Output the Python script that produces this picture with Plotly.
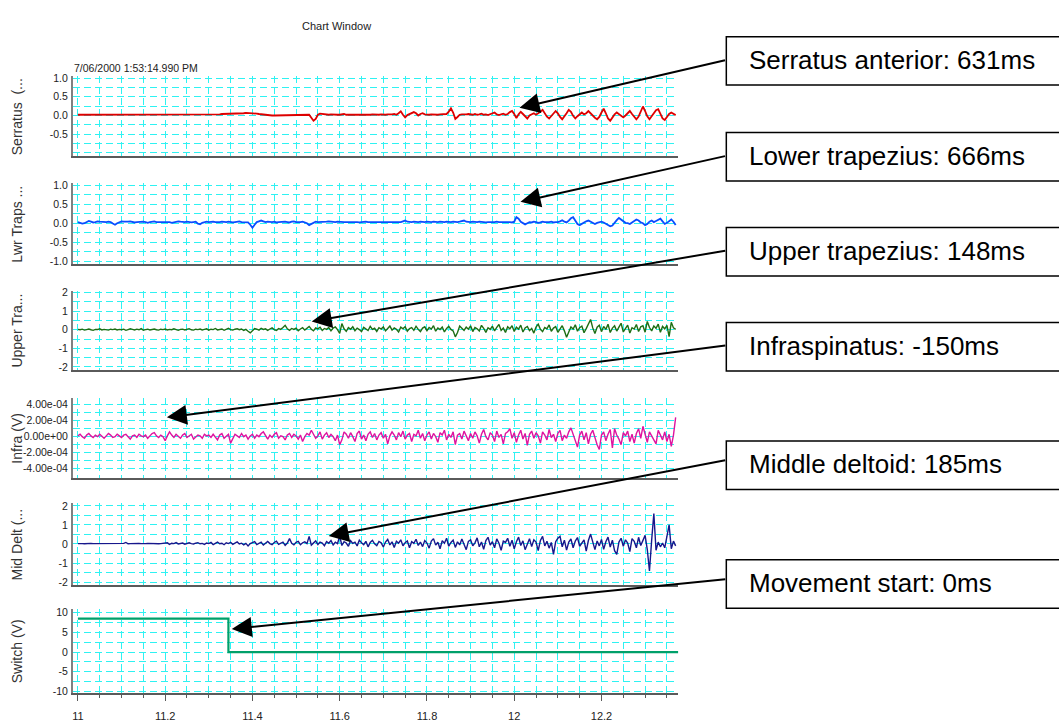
import plotly.graph_objects as go

W, H = 1059, 722

# Sampling of the recorded channels (seconds)
T0, DT = 11.0, 0.005

# Channel 1: serratus anterior EMG (V), one row per 0.1 s
SERRATUS = [
    0.02, 0.02, 0.03, 0.02, 0.02, 0.01, 0.02, 0.02, 0.03, 0.03, 0.02, 0.02, 0.01, 0.02, 0.02, 0.02, 0.03, 0.02, 0.02, 0.02,
    0.02, 0.01, 0.01, 0.02, 0.02, 0.02, 0.03, 0.02, 0.02, 0.01, 0.01, 0.02, 0.02, 0.02, 0.02, 0.01, 0.02, 0.02, 0.03, 0.02,
    0.02, 0.02, 0.01, 0.02, 0.02, 0.02, 0.02, 0.01, 0.01, 0.02, 0.02, 0.02, 0.03, 0.02, 0.02, 0.02, 0.01, 0.02, 0.02, 0.02,
    0.02, 0.02, 0.03, 0.03, 0.03, 0.03, 0.04, 0.04, 0.04, 0.04, 0.05, 0.05, 0.05, 0.05, 0.06, 0.06, 0.06, 0.07, 0.07, 0.06,
    0.07, 0.06, 0.05, 0.04, 0.03, 0.02, 0.02, 0.01, 0.01, 0.00, 0.00, 0.00, 0.01, 0.00, 0.00, 0.00, 0.01, 0.01, 0.00, 0.01,
    0.01, 0.01, 0.01, 0.02, 0.02, 0.01, 0.02, -0.06, -0.14, -0.09, 0.02, 0.05, 0.04, 0.02, 0.02, 0.02, 0.03, 0.02, 0.02, 0.02,
    0.02, 0.03, 0.04, 0.02, 0.01, 0.02, 0.02, 0.03, 0.02, 0.02, 0.03, 0.02, 0.02, 0.01, 0.02, 0.03, 0.02, 0.02, 0.02, 0.03,
    0.02, 0.02, 0.03, 0.02, 0.03, 0.04, 0.02, 0.06, 0.11, 0.02, -0.05, 0.01, 0.03, 0.05, 0.09, 0.06, 0.00, 0.04, 0.06, 0.03,
    0.02, 0.02, 0.03, 0.02, 0.02, 0.02, 0.03, 0.03, 0.02, 0.04, 0.10, 0.19, 0.08, -0.09, -0.04, 0.02, 0.03, 0.02, 0.03, 0.04,
    0.03, 0.02, 0.04, 0.02, 0.03, 0.05, 0.02, 0.03, 0.01, 0.04, 0.06, 0.08, 0.03, 0.01, 0.03, 0.05, 0.02, 0.04, 0.09, 0.12,
    0.04, -0.07, 0.03, 0.10, 0.04, -0.02, -0.08, 0.00, 0.03, 0.06, 0.02, 0.05, 0.10, 0.15, 0.06, -0.03, -0.08, -0.02, 0.05, 0.12,
    0.06, -0.04, -0.10, -0.03, 0.06, 0.15, 0.10, -0.01, -0.08, -0.02, 0.04, 0.08, 0.03, 0.06, 0.12, 0.05, -0.02, -0.06, -0.10, -0.04,
    0.08, 0.18, 0.06, -0.08, -0.14, -0.05, 0.03, 0.08, 0.04, -0.02, -0.05, 0.00, 0.05, 0.12, 0.04, -0.04, -0.10, -0.03, 0.10, 0.24,
    0.12, -0.02, -0.10, -0.02, 0.07, 0.14, 0.17, 0.03, -0.08, -0.12, -0.03, 0.04, 0.08, 0.05, 0.01,
]

# Channel 2: lower trapezius EMG (V)
LWR_TRAPS = [
    0.03, 0.01, -0.01, 0.00, 0.03, 0.06, 0.04, 0.02, 0.03, 0.05, 0.04, 0.03, 0.02, 0.03, 0.04, 0.03, -0.01, -0.04, 0.00, 0.03,
    0.05, 0.04, 0.03, 0.04, 0.05, 0.03, 0.02, 0.03, 0.04, 0.03, 0.04, 0.03, 0.01, 0.03, 0.04, 0.05, 0.03, 0.03, 0.04, 0.03,
    0.03, 0.04, 0.03, 0.01, 0.03, 0.04, 0.05, 0.04, 0.03, 0.03, 0.04, 0.03, 0.02, 0.03, 0.04, -0.01, -0.03, 0.01, 0.03, 0.04,
    0.03, 0.04, 0.04, 0.03, 0.02, 0.03, 0.04, 0.03, 0.03, 0.04, 0.03, 0.02, 0.03, 0.04, 0.05, 0.03, 0.02, 0.03, 0.02, -0.04,
    -0.12, -0.04, 0.03, 0.05, 0.07, 0.05, 0.03, 0.04, 0.03, 0.03, 0.04, 0.02, 0.03, 0.04, 0.03, 0.04, 0.03, 0.02, 0.04, 0.05,
    0.03, 0.02, 0.03, 0.04, 0.03, 0.00, -0.05, -0.02, 0.03, 0.04, 0.03, 0.03, 0.04, 0.03, 0.04, 0.05, 0.04, 0.03, 0.03, 0.04,
    0.03, 0.04, 0.03, 0.03, 0.04, 0.03, 0.03, 0.04, 0.03, 0.02, 0.03, 0.04, 0.04, 0.03, 0.03, 0.04, 0.03, 0.03, 0.04, 0.03,
    0.03, 0.04, 0.03, 0.03, 0.04, 0.03, 0.03, 0.04, 0.03, 0.05, 0.07, 0.04, 0.03, 0.03, 0.04, 0.03, 0.03, 0.04, 0.03, 0.03,
    0.04, 0.03, 0.03, 0.04, 0.03, 0.03, 0.04, 0.03, 0.03, 0.04, 0.03, 0.03, 0.04, 0.03, 0.03, 0.04, 0.05, 0.07, 0.04, 0.03,
    0.03, 0.04, 0.03, 0.03, 0.04, 0.03, 0.03, 0.02, 0.03, 0.04, 0.03, 0.03, 0.04, 0.03, 0.02, 0.03, 0.03, 0.04, 0.03, 0.02,
    0.04, 0.16, 0.12, 0.04, 0.01, -0.03, 0.00, 0.03, 0.02, 0.04, 0.03, 0.01, 0.02, 0.04, 0.03, 0.02, 0.03, 0.04, 0.02, 0.03,
    0.03, 0.05, 0.08, 0.04, 0.02, 0.07, 0.13, 0.16, 0.06, -0.02, -0.05, -0.01, 0.03, 0.05, 0.07, 0.04, 0.01, -0.02, 0.01, 0.03,
    0.04, 0.02, -0.01, -0.05, -0.08, -0.06, 0.02, 0.08, 0.14, 0.10, 0.04, 0.01, 0.00, -0.02, 0.02, 0.06, 0.10, 0.07, 0.02, 0.00,
    -0.05, -0.02, 0.04, 0.07, 0.03, 0.06, 0.10, 0.12, 0.05, -0.02, 0.01, 0.06, 0.10, 0.04, -0.05,
]

# Channel 3: upper trapezius EMG (V)
UPPER_TRAP = [
    0.02, 0.00, 0.03, -0.02, 0.01, 0.04, 0.00, -0.03, 0.02, 0.01, 0.05, -0.01, 0.02, 0.00, -0.02, 0.03, 0.01, 0.04, -0.01, 0.02,
    0.00, 0.03, -0.03, 0.01, 0.05, 0.02, -0.01, 0.03, 0.00, 0.06, -0.02, 0.01, 0.03, -0.01, 0.02, 0.04, 0.00, -0.02, 0.03, 0.01,
    0.04, -0.01, 0.02, 0.00, 0.05, 0.01, -0.03, 0.02, 0.03, -0.01, 0.01, 0.06, 0.00, -0.02, 0.03, 0.01, 0.04, -0.01, 0.02, 0.05,
    -0.02, 0.03, 0.01, 0.07, -0.01, 0.02, 0.04, -0.03, 0.02, 0.08, 0.01, -0.02, 0.03, 0.05, 0.00, 0.04, -0.04, 0.02, -0.08, -0.17,
    -0.05, 0.06, 0.03, -0.02, 0.08, 0.02, 0.05, -0.03, 0.04, 0.10, 0.01, -0.04, 0.06, 0.02, 0.12, 0.24, 0.05, -0.03, 0.07, 0.02,
    0.09, -0.05, 0.04, 0.11, -0.02, 0.08, 0.18, 0.03, -0.06, 0.10, 0.05, 0.14, -0.04, 0.07, 0.02, 0.12, -0.06, 0.09, 0.15, 0.01,
    -0.20, 0.33, 0.05, -0.08, 0.12, 0.03, 0.16, -0.05, 0.09, 0.01, -0.10, 0.13, 0.06, -0.04, 0.18, 0.02, 0.08, -0.09, 0.11, 0.04,
    0.15, -0.06, 0.07, 0.20, -0.02, 0.10, 0.03, -0.12, 0.14, 0.05, 0.17, -0.08, 0.06, 0.12, -0.03, 0.19, 0.02, -0.10, 0.09, 0.16,
    -0.05, 0.12, 0.04, 0.22, -0.08, 0.10, 0.01, 0.15, -0.12, 0.07, 0.18, 0.02, -0.06, -0.38, -0.15, 0.20, 0.08, -0.04, 0.14, 0.03,
    0.21, -0.10, 0.12, 0.05, -0.07, 0.24, 0.08, -0.14, 0.11, 0.02, 0.19, -0.06, 0.13, 0.28, -0.04, 0.09, -0.15, 0.16, 0.05, 0.22,
    -0.09, 0.14, 0.03, 0.25, -0.12, 0.10, 0.18, -0.05, 0.07, -0.18, 0.15, 0.30, 0.02, -0.10, 0.12, 0.05, 0.26, -0.08, 0.09, 0.17,
    -0.14, 0.08, 0.22, -0.06, -0.40, -0.12, 0.15, 0.04, 0.27, -0.08, 0.11, 0.20, -0.16, 0.06, 0.32, 0.55, 0.10, -0.20, 0.14, 0.24,
    -0.10, 0.18, 0.02, 0.30, -0.15, 0.09, 0.21, -0.07, 0.14, 0.35, -0.12, 0.06, 0.25, -0.18, 0.11, 0.04, 0.28, -0.09, 0.16, 0.22,
    -0.13, 0.45, 0.12, -0.06, 0.20, 0.08, 0.30, -0.14, 0.18, 0.05, 0.24, -0.37, 0.40, 0.10, 0.02,
]

# Channel 4: infraspinatus EMG, in units of 1e-4 V
INFRA_E4 = [
    0.1, 0.3, 0.0, -0.2, 0.2, 0.4, 0.1, -0.1, 0.2, 0.0, 0.3, 0.1, -0.2, 0.1, 0.4, 0.2, -0.1, 0.0, 0.3, 0.1,
    -0.1, 0.2, 0.3, 0.0, -0.3, 0.1, 0.2, -0.1, 0.3, 0.1, 0.0, 0.2, -0.2, 0.1, 0.4, 0.5, 0.1, -0.1, 0.2, 0.0,
    -0.5, 0.1, 0.6, 0.2, -0.1, 0.3, 0.0, -0.2, 0.2, 0.4, -0.1, 0.1, 0.3, -0.3, 0.0, 0.2, 0.1, -0.2, 0.3, 0.1,
    0.2, -0.1, 0.3, 0.0, -0.4, 0.2, 0.4, -0.2, 0.1, 0.3, -0.8, -0.2, 0.3, 0.1, -0.1, 0.4, 0.0, 0.2, -0.3, 0.1,
    0.3, -0.2, 0.2, 0.0, 0.4, 0.6, 0.1, -0.3, 0.2, -0.1, 0.3, 0.5, -0.2, 0.1, 0.0, -0.4, 0.2, 0.4, -0.1, 0.3,
    0.1, -0.3, 0.2, -0.6, 0.0, 0.4, 0.2, 0.8, 0.3, -0.2, 0.1, 0.6, -0.3, 0.2, 0.5, -0.1, 0.3, 0.0, -0.5, 0.2,
    -1.0, -0.4, 0.6, 0.3, -0.2, 0.5, 0.0, -0.6, 0.4, 0.7, -0.3, 0.2, -0.5, 0.3, 0.6, -0.1, 0.4, -0.4, 0.2, 0.5,
    -0.2, 0.3, -0.9, 0.1, 0.6, 0.2, -0.4, 0.5, 0.0, 0.7, -0.3, 0.2, 0.4, -0.6, 0.3, 0.1, 0.8, -0.2, 0.4, -0.5,
    0.2, 0.6, -0.3, 0.4, 0.0, -0.7, 0.5, 0.2, 0.8, -0.4, 0.3, -0.1, 0.6, -1.0, 0.2, 0.4, -0.3, 0.7, 0.1, -0.5,
    0.4, -0.2, 0.6, 0.1, -0.8, 0.3, 0.9, 0.0, -0.4, 0.5, 0.2, -0.6, 0.7, -0.1, 0.3, -0.9, 0.4, 0.6, 1.0, -0.2,
    0.5, -0.7, 0.2, 0.8, -0.3, 0.4, -1.1, 0.3, 0.7, -0.2, 0.5, 0.1, -0.8, 0.6, 0.2, -0.4, 0.9, -0.1, 0.3, -0.6,
    0.4, 0.8, -0.5, 0.2, -0.2, 0.6, 1.1, 0.3, -0.6, -1.3, 0.2, 0.7, -0.4, 0.5, -0.9, 0.3, 0.8, -0.2, -1.0, -1.6,
    0.2, 0.6, -0.5, 0.3, 0.9, -1.4, 1.0, 0.2, -0.3, -1.0, 0.5, 0.1, 0.7, -0.6, 0.3, -0.8, 0.4, 1.0, -0.2, 1.3,
    0.4, -0.7, 0.6, 0.1, -0.5, -0.9, 0.8, 0.2, -0.4, 0.6, -0.6, 0.3, -1.2, 0.2, 2.4,
]

# Channel 5: middle deltoid EMG (V)
MID_DELT = [
    0.02, 0.03, 0.02, 0.01, 0.03, 0.02, 0.03, 0.02, 0.02, 0.01, 0.03, 0.02, 0.03, 0.02, 0.01, 0.02, 0.03, 0.02, 0.02, 0.03,
    0.02, 0.03, 0.08, 0.01, 0.02, 0.03, 0.02, 0.02, 0.03, 0.02, 0.01, 0.02, 0.03, 0.02, 0.02, 0.03, 0.02, 0.01, 0.02, 0.03,
    0.03, 0.06, -0.02, 0.04, 0.02, 0.07, 0.00, 0.03, 0.05, -0.01, 0.03, 0.06, 0.02, 0.00, 0.04, 0.07, 0.01, 0.03, -0.02, 0.05,
    0.02, 0.08, -0.03, 0.05, 0.10, 0.01, 0.04, -0.04, 0.06, 0.02, 0.09, -0.02, 0.05, 0.11, 0.00, 0.04, -0.05, 0.03, -0.10, 0.02,
    0.07, 0.12, -0.03, 0.05, 0.09, -0.06, 0.04, 0.13, 0.02, -0.04, 0.08, 0.15, -0.02, 0.06, 0.10, -0.07, 0.05, 0.28, 0.03, -0.05,
    0.09, 0.14, -0.04, 0.06, 0.11, 0.02, 0.40, -0.06, 0.08, 0.16, -0.03, 0.10, 0.05, -0.09, 0.13, 0.04, 0.18, -0.05, 0.09, 0.02,
    0.42, -0.08, 0.12, 0.05, -0.12, 0.17, 0.03, 0.09, -0.10, 0.20, 0.06, -0.04, 0.14, -0.15, 0.08, 0.19, 0.01, -0.09, 0.13, 0.06,
    -0.16, 0.10, 0.24, -0.05, 0.11, -0.18, 0.14, 0.04, 0.22, -0.10, 0.07, 0.16, -0.20, 0.12, 0.03, 0.25, -0.08, 0.10, -0.14, 0.18,
    0.05, -0.22, 0.15, 0.28, -0.06, 0.09, -0.25, 0.17, 0.04, 0.30, -0.12, 0.08, 0.20, -0.18, 0.11, -0.05, 0.26, 0.02, -0.30, 0.14,
    0.22, -0.10, 0.06, 0.32, -0.15, 0.10, -0.28, 0.18, 0.35, -0.06, 0.12, -0.20, 0.27, 0.04, -0.33, 0.15, 0.08, 0.30, -0.12, 0.20,
    -0.25, 0.12, 0.36, -0.08, 0.16, -0.30, 0.05, 0.28, -0.14, 0.22, 0.10, -0.35, 0.18, 0.40, -0.10, 0.14, -0.22, 0.08, -0.55, 0.12,
    0.30, 0.40, -0.15, 0.20, -0.32, 0.10, 0.26, -0.20, 0.15, 0.34, -0.12, 0.05, 0.22, -0.38, 0.18, 0.52, 0.08, -0.30, 0.16, -0.10,
    0.24, -0.28, 0.12, 0.36, -0.16, 0.20, -0.35, -0.55, 0.10, 0.30, -0.12, 0.22, 0.05, -0.40, 0.28, 0.14, -0.20, 0.35, -0.08, 0.18,
    0.45, -0.30, -1.42, 0.20, 1.60, -0.33, 0.10, -0.15, 0.05, -0.20, 0.40, 1.00, -0.25, 0.15, -0.10,
]

# Channel 6: movement switch (V), as level changes
SWITCH_T = [11.0, 11.345, 11.345, 12.376]
SWITCH_V = [8.5, 8.5, 0.0, 0.0]

# Onset annotations
ONSET_LABELS = [
    "Serratus anterior: 631ms",
    "Lower trapezius: 666ms",
    "Upper trapezius: 148ms",
    "Infraspinatus: -150ms",
    "Middle deltoid: 185ms",
    "Movement start: 0ms",
]

HEADER = "Chart Window"
TIMESTAMP = "7/06/2000 1:53:14.990 PM"


def sample_times(values):
    return [round(T0 + i * DT, 4) for i in range(len(values))]


INFRA = [v * 1e-4 for v in INFRA_E4]

SANS = "Liberation Sans, Arial, sans-serif"
GRID = "#2EF2F2"
DASH = "7px,4px"
AXIS = "#5a5a5a"

X_RANGE = [10.9886, 12.3762]
X_DOM = [72 / W, 678 / W]

panels = [
    dict(title="Serratus  (...", t=sample_times(SERRATUS), v=SERRATUS, color="#DD0000", width=1.8,
         rng=[-1.09, 1.05], ticks=[1.0, 0.5, 0.0, -0.5], text=["1.0", "0.5", "0.0", "-0.5"],
         grid=[-1.0, -0.75, -0.25, 0.25, 0.75], top=73, bottom=154),
    dict(title="Lwr Traps ...", t=sample_times(LWR_TRAPS), v=LWR_TRAPS, color="#0A4CFF", width=1.8,
         rng=[-1.08, 1.05], ticks=[1.0, 0.5, 0.0, -0.5, -1.0], text=["1.0", "0.5", "0.0", "-0.5", "-1.0"],
         grid=[0.75, 0.25, -0.25, -0.75], top=181.5, bottom=263),
    dict(title="Upper Tra...", t=sample_times(UPPER_TRAP), v=UPPER_TRAP, color="#1E6E14", width=1.4,
         rng=[-2.19, 2.1], ticks=[2, 1, 0, -1, -2], text=["2", "1", "0", "-1", "-2"],
         grid=[1.5, 0.5, -0.5, -1.5], top=290, bottom=370.5),
    dict(title="Infra (V)", t=sample_times(INFRA), v=INFRA, color="#DE139F", width=1.4,
         rng=[-5.12e-4, 4.88e-4], ticks=[4e-4, 2e-4, 0, -2e-4, -4e-4],
         text=["4.00e-04", "2.00e-04", "0.00e+00", "-2.00e-04", "-4.00e-04"],
         grid=[3e-4, 1e-4, -1e-4, -3e-4], top=398, bottom=479),
    dict(title="Mid Delt (...", t=sample_times(MID_DELT), v=MID_DELT, color="#17178C", width=1.4,
         rng=[-2.18, 2.13], ticks=[2, 1, 0, -1, -2], text=["2", "1", "0", "-1", "-2"],
         grid=[1.5, 0.5, -0.5, -1.5], top=505, bottom=588),
    dict(title="Switch (V)", t=SWITCH_T, v=SWITCH_V, color="#00A06A", width=2.2,
         rng=[-10.5, 10.9], ticks=[10, 5, 0, -5, -10], text=["10", "5", "0", "-5", "-10"],
         grid=[7.5, 2.5, -2.5, -7.5], top=612, bottom=697),
]

fig = go.Figure()
layout = dict(
    width=W, height=H,
    margin=dict(l=0, r=0, t=0, b=0),
    paper_bgcolor="white", plot_bgcolor="white",
    showlegend=False,
)

annotations = []
shapes = []

n = len(panels)
for k, p in enumerate(panels, start=1):
    last = k == n
    xa = "x" if k == 1 else f"x{k}"
    ya = "y" if k == 1 else f"y{k}"
    fig.add_trace(go.Scatter(
        x=p["t"], y=p["v"], mode="lines",
        line=dict(color=p["color"], width=p["width"]),
        xaxis=xa, yaxis=ya, hoverinfo="skip",
    ))
    layout["xaxis" if k == 1 else f"xaxis{k}"] = dict(
        domain=X_DOM, range=X_RANGE, anchor=ya,
        tickmode="linear", tick0=11, dtick=0.2, tickformat="~g",
        showgrid=True, gridcolor=GRID, griddash=DASH, gridwidth=1,
        minor=dict(tickmode="linear", tick0=11, dtick=0.05, showgrid=True, gridcolor=GRID,
                   griddash=DASH, gridwidth=1, ticks="outside" if last else "", ticklen=3,
                   tickcolor=AXIS, tickwidth=1),
        showline=True, linecolor=AXIS, linewidth=1.6,
        zeroline=False, showticklabels=last,
        ticks="outside" if last else "", ticklen=6, tickcolor=AXIS, tickwidth=1,
        ticklabelstandoff=6,
        tickfont=dict(family=SANS, size=11, color="#222"),
    )
    layout["yaxis" if k == 1 else f"yaxis{k}"] = dict(
        domain=[1 - p["bottom"] / H, 1 - p["top"] / H], range=p["rng"], anchor=xa,
        tickmode="array", tickvals=p["ticks"], ticktext=p["text"],
        showgrid=True, gridcolor=GRID, griddash=DASH, gridwidth=1,
        minor=dict(tickmode="array", tickvals=p["grid"], showgrid=True, gridcolor=GRID,
                   griddash=DASH, gridwidth=1, ticks=""),
        showline=True, linecolor="#808080", linewidth=2,
        zeroline=False, ticks="", ticklabelstandoff=1,
        tickfont=dict(family=SANS, size=10.5, color="#222"),
    )
    annotations.append(dict(
        text=p["title"], xref="paper", yref="paper",
        x=16 / W, y=1 - (p["top"] + p["bottom"]) / 2 / H,
        textangle=-90, showarrow=False, xanchor="center", yanchor="middle",
        font=dict(family=SANS, size=14, color="#333"),
    ))

annotations.append(dict(
    text=HEADER, xref="paper", yref="paper", x=336 / W, y=1 - 22 / H,
    showarrow=False, xanchor="center", yanchor="middle",
    font=dict(family=SANS, size=11, color="#222"),
))
annotations.append(dict(
    text=TIMESTAMP, xref="paper", yref="paper", x=71 / W, y=1 - 65 / H,
    showarrow=False, xanchor="left", yanchor="middle",
    font=dict(family=SANS, size=10.5, color="#222"),
))

# Label boxes on the right with arrows pointing to each onset
box_tops = [33, 130, 226, 322, 442, 562]
box_h = 49
heads = [(519, 105), (520, 200), (311, 321), (166, 418), (328, 538), (231, 632)]
tails_y = [57, 154, 250, 346, 462, 582]
box_left = 726

for label, top, (hx, hy), ty in zip(ONSET_LABELS, box_tops, heads, tails_y):
    shapes.append(dict(
        type="rect", xref="paper", yref="paper",
        x0=box_left / W, x1=1.02, y0=1 - (top + box_h) / H, y1=1 - top / H,
        line=dict(color="black", width=1.5), fillcolor="white", layer="above",
    ))
    annotations.append(dict(
        text=label, xref="paper", yref="paper",
        x=747 / W, y=1 - (top + box_h / 2 - 1) / H,
        showarrow=False, xanchor="left", yanchor="middle",
        font=dict(family=SANS, size=26, color="black"),
    ))
    annotations.append(dict(
        text="", xref="paper", yref="paper", x=hx / W, y=1 - hy / H,
        ax=box_left - hx, ay=ty - hy, showarrow=True,
        arrowhead=2, arrowsize=2, arrowwidth=2, arrowcolor="black", standoff=0,
    ))

layout["annotations"] = annotations
layout["shapes"] = shapes
fig.update_layout(**layout)

fig.write_html("out.html")
